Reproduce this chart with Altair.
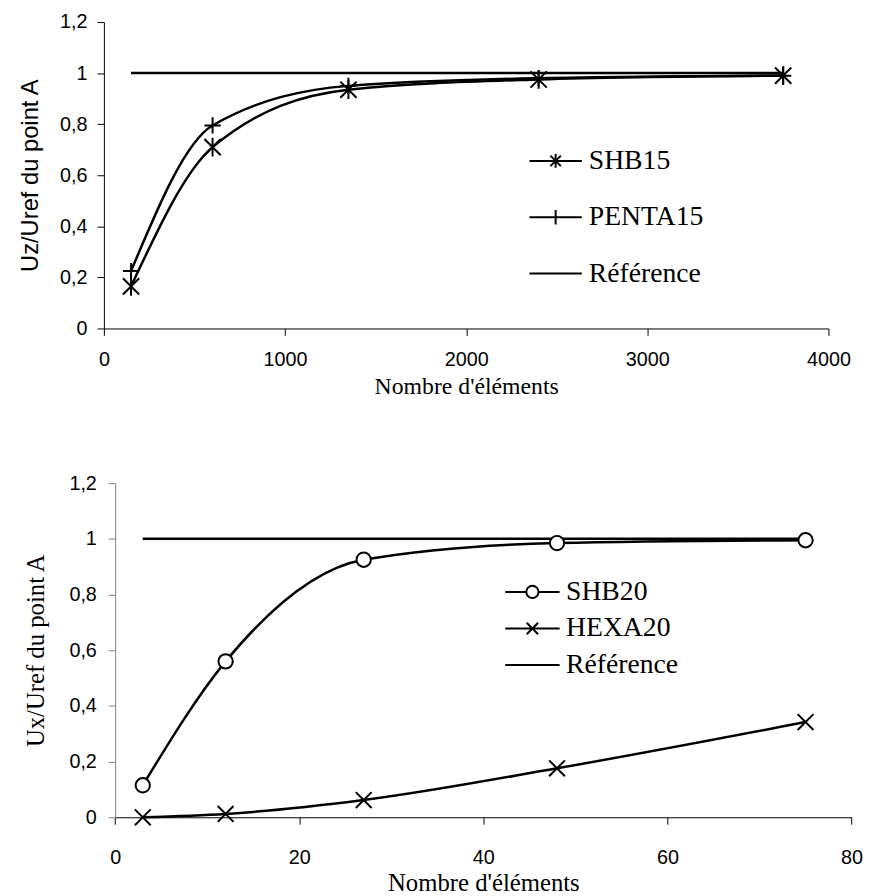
import altair as alt
import pandas as pd

# ---------------- data ----------------
top_n = [150, 600, 1350, 2400, 3750]
top_shb15 = [0.165, 0.71, 0.935, 0.975, 0.99]
top_penta15 = [0.225, 0.795, 0.95, 0.98, 0.99]
top_ref = [1.0, 1.0, 1.0, 1.0, 1.0]
top_names = ["SHB15", "PENTA15", "Référence"]

bot_n = [3, 12, 27, 48, 75]
bot_shb20 = [0.115, 0.56, 0.925, 0.985, 0.995]
bot_hexa20 = [0.0, 0.012, 0.062, 0.176, 0.342]
bot_ref = [1.0, 1.0, 1.0, 1.0, 1.0]
bot_names = ["SHB20", "HEXA20", "Référence"]

y_ticks = [0, 0.2, 0.4, 0.6, 0.8, 1.0, 1.2]
top_x_ticks = [0, 1000, 2000, 3000, 4000]
bot_x_ticks = [0, 20, 40, 60, 80]

SERIF = "Liberation Serif"
SANS = "Liberation Sans"


def to_long(n, series, names):
    rows = []
    for name, vals in zip(names, series):
        for x, v in zip(n, vals):
            rows.append({"n": x, "v": v, "series": name})
    return pd.DataFrame(rows)


top_df = to_long(top_n, [top_shb15, top_penta15, top_ref], top_names)
bot_df = to_long(bot_n, [bot_shb20, bot_hexa20, bot_ref], bot_names)

# marker shapes
STAR = "M-1,-1L1,1M-1,1L1,-1M0,-1.15V1.15"
PLUS = "M-1,0H1M0,-1V1"
XMARK = "M-1,-1L1,1M-1,1L1,-1"

# legend symbols (line + marker)
LEG_STAR = "M-2,0H2M-0.4,-0.4L0.4,0.4M-0.4,0.4L0.4,-0.4M0,-0.52V0.52"
LEG_PLUS = "M-2,0H2M0,-0.55V0.55"
LEG_LINE = "M-2,0H2"
LEG_CIRC = "M-2,0H-0.45M0.45,0H2M-0.45,0A0.45,0.45 0 1 0 0.45,0A0.45,0.45 0 1 0 -0.45,0"
LEG_X = "M-2,0H2M-0.42,-0.42L0.42,0.42M-0.42,0.42L0.42,-0.42"

label_expr = "replace(toString(datum.value), '.', ',')"

BOT_SHIFT = 11.4  # bottom y axis sits further right than the top one

# ---------------- top panel ----------------
x_top = alt.X(
    "n:Q",
    scale=alt.Scale(domain=[0, 4000], nice=False, zero=False),
    axis=alt.Axis(
        values=top_x_ticks, format="d", title="Nombre d'éléments",
        titleFont=SERIF, titleFontSize=24, titleFontWeight="normal", titlePadding=6,
        labelFont=SANS, labelFontSize=20, labelPadding=14, tickSize=7,
        labelFlush=False,
        grid=False, domainColor="black", tickColor="black", labelColor="black",
        titleColor="black",
    ),
)
y_top = alt.Y(
    "v:Q",
    scale=alt.Scale(domain=[0, 1.2], nice=False),
    axis=alt.Axis(
        values=y_ticks, labelExpr=label_expr, title="Uz/Uref du point A",
        titleFont=SANS, titleFontSize=24, titleFontWeight="normal", titlePadding=17,
        labelFont=SANS, labelFontSize=20, labelPadding=10, tickSize=7,
        labelFlush=False,
        grid=False, domainColor="black", tickColor="black", labelColor="black",
        titleColor="black",
    ),
)

tbase = alt.Chart(top_df).encode(x=x_top, y=y_top)

t_lines = tbase.transform_filter(alt.datum.series != "Référence").mark_line(
    interpolate="monotone", color="black", strokeWidth=2.5
).encode(detail="series:N")
t_ref = tbase.transform_filter(alt.datum.series == "Référence").mark_line(
    color="black", strokeWidth=2.5
)
t_p1 = tbase.transform_filter(alt.datum.series == "SHB15").mark_point(
    shape=STAR, size=270, filled=False, color="black", strokeWidth=2, opacity=1
)
t_p2 = tbase.transform_filter(alt.datum.series == "PENTA15").mark_point(
    shape=PLUS, size=270, filled=False, color="black", strokeWidth=2, opacity=1
)
t_leg = tbase.transform_filter("false").mark_point(
    filled=False, color="black", strokeWidth=2, opacity=1
).encode(
    shape=alt.Shape(
        "series:N",
        scale=alt.Scale(domain=top_names, range=[LEG_STAR, LEG_PLUS, LEG_LINE]),
        legend=alt.Legend(
            title=None, orient="none", legendX=442.5, legendY=126,
            symbolSize=702, symbolStrokeWidth=2, symbolStrokeColor="black",
            labelFont=SERIF, labelFontSize=28, labelColor="black",
            labelOffset=19, rowPadding=28, padding=0, labelLimit=0,
        ),
    )
)

top = alt.layer(t_lines, t_ref, t_p1, t_p2, t_leg).properties(width=733, height=310)

# ---------------- bottom panel ----------------
x_bot = alt.X(
    "n:Q",
    scale=alt.Scale(domain=[0, 80], nice=False, zero=False,
                    range=[BOT_SHIFT, BOT_SHIFT + 745]),
    axis=alt.Axis(
        values=bot_x_ticks, format="d", title="Nombre d'éléments",
        titleFont=SERIF, titleFontSize=25, titleFontWeight="normal", titlePadding=3,
        labelFont=SANS, labelFontSize=20, labelPadding=24, tickSize=7,
        labelFlush=False,
        grid=False, domainColor="black", tickColor="black", labelColor="black",
        titleColor="black",
    ),
)
y_bot = alt.Y(
    "v:Q",
    scale=alt.Scale(domain=[0, 1.2], nice=False),
    axis=alt.Axis(
        values=y_ticks, labelExpr=label_expr, title="Ux/Uref du point A",
        titleFont=SERIF, titleFontSize=25, titleFontWeight="normal", titlePadding=21,
        labelFont=SANS, labelFontSize=20, labelPadding=12, tickSize=7,
        offset=-BOT_SHIFT, labelFlush=False,
        grid=False, domainColor="#808080", tickColor="#808080", labelColor="black",
        titleColor="black",
    ),
)

bbase = alt.Chart(bot_df).encode(x=x_bot, y=y_bot)

b_lines = bbase.transform_filter(alt.datum.series != "Référence").mark_line(
    interpolate="monotone", color="black", strokeWidth=2.5
).encode(detail="series:N")
b_ref = bbase.transform_filter(alt.datum.series == "Référence").mark_line(
    color="black", strokeWidth=2.5
)
b_p1 = bbase.transform_filter(alt.datum.series == "SHB20").mark_point(
    shape="circle", size=210, filled=True, fill="white", stroke="black",
    strokeWidth=2, opacity=1
)
b_p2 = bbase.transform_filter(alt.datum.series == "HEXA20").mark_point(
    shape=XMARK, size=256, filled=False, color="black", strokeWidth=2, opacity=1
)
b_leg = bbase.transform_filter("false").mark_point(
    filled=False, color="black", strokeWidth=2, opacity=1
).encode(
    shape=alt.Shape(
        "series:N",
        scale=alt.Scale(domain=bot_names, range=[LEG_CIRC, LEG_X, LEG_LINE]),
        legend=alt.Legend(
            title=None, orient="none", legendX=418.5, legendY=95,
            symbolSize=756, symbolStrokeWidth=2, symbolStrokeColor="black",
            labelFont=SERIF, labelFontSize=28, labelColor="black",
            labelOffset=19, rowPadding=8, padding=0, labelLimit=0,
        ),
    )
)

bot = alt.layer(b_lines, b_ref, b_p1, b_p2, b_leg).properties(
    width=745 + BOT_SHIFT, height=338
)

chart = (
    alt.concat(top, bot, columns=1, spacing=75.5)
    .resolve_scale(x="independent", y="independent", shape="independent")
    .resolve_legend(shape="independent")
    .properties(padding={"left": 11, "top": -1, "right": 5, "bottom": 0})
    .configure_view(stroke=None)
)

chart.save("out.html", embed_options={"renderer": "svg", "actions": False})
